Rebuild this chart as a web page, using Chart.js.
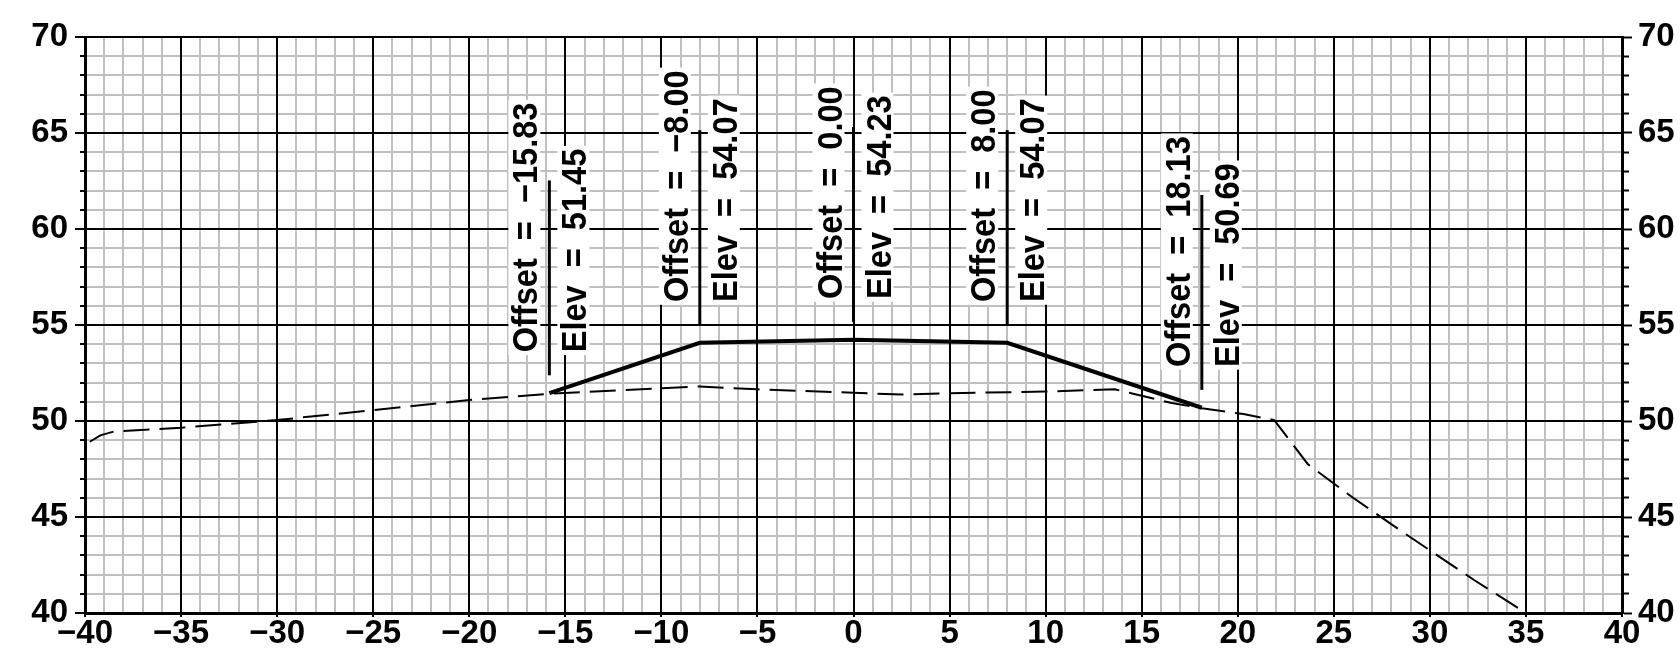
<!DOCTYPE html>
<html><head><meta charset="utf-8">
<script src="https://cdn.jsdelivr.net/npm/chart.js@4.4.1/dist/chart.umd.min.js"></script>
<style>html,body{margin:0;padding:0;background:#fff;}#wrap{width:1680px;height:649px;position:relative;}</style>
</head><body><div id="wrap"><canvas id="c"></canvas></div>
<script>
// ---- data ----
const stationOffsets = [-15.83, -8.00, 0.00, 8.00, 18.13];
const stationElevs   = [51.45, 54.07, 54.23, 54.07, 50.69];
const groundOffsets = [-39.75, -39.2, -38.5, -35, -30, -25, -20, -15.83, -14.5, -10, -8, -5, 0, 2.5, 5, 10, 13.6, 16.5, 18.13, 20.3, 21.9, 23.65, 26, 29.2, 32.3, 35];
const groundElevs   = [48.92, 49.25, 49.45, 49.65, 50.05, 50.57, 51.09, 51.42, 51.49, 51.70, 51.80, 51.65, 51.47, 51.38, 51.45, 51.53, 51.65, 50.95, 50.66, 50.36, 50.05, 47.75, 46.00, 43.80, 41.72, 40.00];
const xTickLabels = [-40, -35, -30, -25, -20, -15, -10, -5, 0, 5, 10, 15, 20, 25, 30, 35, 40];
const yTickLabels = [40, 45, 50, 55, 60, 65, 70];

// ---- styling constants ----
const LEADER_LOW = 0.93, LEADER_HIGH = 11.08;
const FONT = '"Liberation Sans", Arial, sans-serif';
const GRAY = '#c0c0c0';
const fmtTick = v => (v < 0 ? '\u2212' + Math.abs(v) : String(v));
const fmt2 = v => (v < 0 ? '\u2212' : '') + Math.abs(v).toFixed(2);
const isMajor = (v, arr) => arr.includes(v);

const datasets = [];
datasets.push({
  label: 'Design', data: stationOffsets.map((x, i) => ({x, y: stationElevs[i]})),
  borderColor: '#000', borderWidth: 4, showLine: true, pointRadius: 0, tension: 0
});
stationOffsets.forEach((x, i) => {
  datasets.push({
    label: 'leader' + i,
    data: [{x, y: stationElevs[i] + LEADER_LOW}, {x, y: stationElevs[i] + LEADER_HIGH}],
    borderColor: '#000', borderWidth: 3, showLine: true, pointRadius: 0
  });
});
datasets.push({
  label: 'Ground', data: groundOffsets.map((x, i) => ({x, y: groundElevs[i]})),
  borderColor: '#000', borderWidth: 2, borderDash: [26, 10], showLine: true, pointRadius: 0, tension: 0
});

const TEXT_SQUEEZE = 0.93;
function drawVert(ctx, text, bx, by) {
  ctx.save();
  ctx.translate(bx, by);
  ctx.rotate(-Math.PI / 2);
  ctx.scale(TEXT_SQUEEZE, 1);
  ctx.textBaseline = 'alphabetic';
  ctx.textAlign = 'left';
  const m = ctx.measureText(text);
  const asc = m.actualBoundingBoxAscent, desc = Math.max(0, m.actualBoundingBoxDescent);
  ctx.fillStyle = '#fff';
  ctx.fillRect(-3, -asc - 3, m.width + 6, asc + desc + 6);
  ctx.fillStyle = '#000';
  ctx.fillText(text, 0, 0);
  ctx.restore();
}

const labelPlugin = {
  id: 'stationLabels',
  afterDatasetsDraw(chart) {
    const ctx = chart.ctx, xs = chart.scales.x, ys = chart.scales.y;
    ctx.save();
    ctx.font = 'bold 35px ' + FONT;
    stationOffsets.forEach((off, i) => {
      const px = xs.getPixelForValue(off);
      const start = ys.getPixelForValue(stationElevs[i] + LEADER_LOW) - 23;
      drawVert(ctx, 'Offset  =  ' + fmt2(off), px - 12, start);
      drawVert(ctx, 'Elev  =  ' + fmt2(stationElevs[i]), px + 37, start);
    });
    ctx.restore();
  }
};

const tickFont = {family: FONT, size: 33, weight: 'bold', lineHeight: 1};
const minorDash = ctx => isMajor(ctx.tick.value, yTickLabels) ? [] : [5, 5];

new Chart(document.getElementById('c'), {
  type: 'scatter',
  data: {datasets},
  plugins: [labelPlugin],
  options: {
    responsive: true, maintainAspectRatio: false, animation: false,
    layout: {padding: {left: 0, right: 0, top: 37, bottom: 0}},
    plugins: {legend: {display: false}, tooltip: {enabled: false}},
    scales: {
      x: {
        type: 'linear', position: 'bottom',
        min: xTickLabels[0], max: xTickLabels[xTickLabels.length - 1],
        afterFit: s => { s.height = 36; },
        ticks: {stepSize: 5, autoSkip: false, maxRotation: 0, padding: 0, color: '#000', font: tickFont, callback: v => fmtTick(v)},
        grid: {color: '#000', lineWidth: 2, z: -1, tickLength: 4, tickColor: '#000', tickWidth: 2},
        border: {display: true, color: '#000', width: 3}
      },
      xMinor: {
        type: 'linear', position: 'bottom',
        min: xTickLabels[0], max: xTickLabels[xTickLabels.length - 1],
        afterFit: s => { s.height = 0; },
        ticks: {stepSize: 1, display: false, autoSkip: false},
        grid: {color: GRAY, lineWidth: 2, z: -2, drawTicks: false},
        border: {display: false}
      },
      y: {
        type: 'linear', position: 'left',
        min: yTickLabels[0], max: yTickLabels[yTickLabels.length - 1],
        afterFit: s => { s.width = 85; },
        ticks: {stepSize: 1, autoSkip: false, padding: 7, color: '#000', font: tickFont,
                callback: v => isMajor(v, yTickLabels) ? fmtTick(v) : ''},
        grid: {color: GRAY, lineWidth: 2, z: -2, tickLength: 10, tickColor: '#000', tickWidth: 2,
               tickBorderDash: minorDash, tickBorderDashOffset: ctx => isMajor(ctx.tick.value, yTickLabels) ? 0 : 5},
        border: {display: true, color: '#000', width: 3}
      },
      yMajor: {
        type: 'linear', position: 'left',
        min: yTickLabels[0], max: yTickLabels[yTickLabels.length - 1],
        afterFit: s => { s.width = 0; },
        ticks: {stepSize: 5, display: false, autoSkip: false},
        grid: {color: '#000', lineWidth: 2, z: -1, drawTicks: false},
        border: {display: false}
      },
      y2: {
        type: 'linear', position: 'right',
        min: yTickLabels[0], max: yTickLabels[yTickLabels.length - 1],
        afterFit: s => { s.width = 58; },
        ticks: {stepSize: 1, autoSkip: false, padding: 6, color: '#000', font: tickFont,
                callback: v => isMajor(v, yTickLabels) ? fmtTick(v) : ''},
        grid: {drawOnChartArea: false, tickLength: 10, tickColor: '#000', tickWidth: 2,
               tickBorderDash: minorDash, tickBorderDashOffset: 0},
        border: {display: true, color: '#000', width: 3}
      }
    }
  }
});
</script></body></html>
